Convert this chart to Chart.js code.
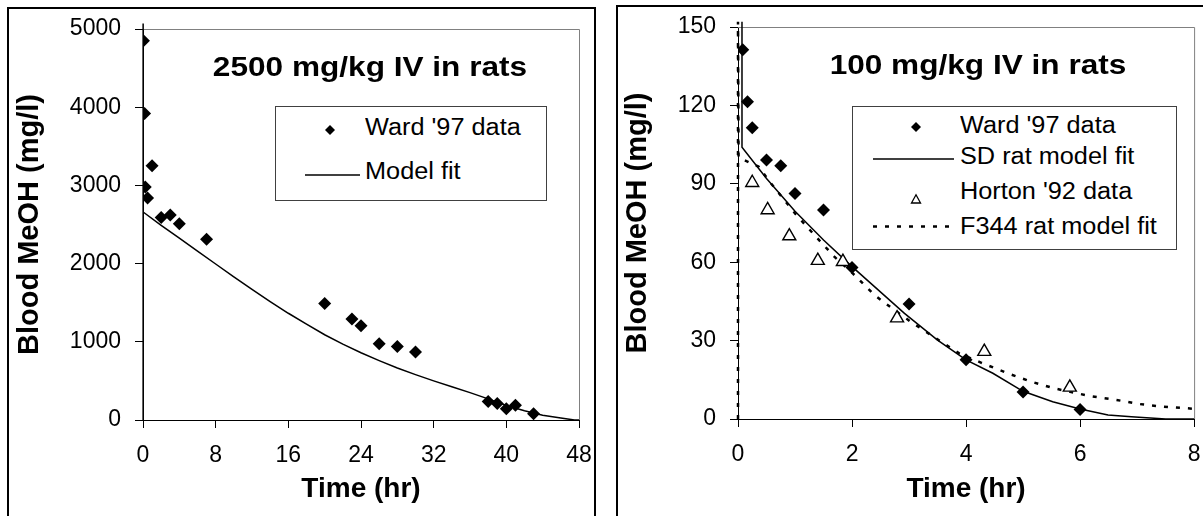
<!DOCTYPE html>
<html>
<head>
<meta charset="utf-8">
<script src="https://cdn.jsdelivr.net/npm/chart.js@4.4.0/dist/chart.umd.min.js"></script>
<style>
    html, body { margin: 0; padding: 0; background: #fff; }
    body { width: 1203px; height: 516px; position: relative; overflow: hidden; font-family: "Liberation Sans", Arial, sans-serif; color: #000; }
    .frame { position: absolute; border: 2px solid #000; box-sizing: border-box; }
    #frameLeft { left: 7px; top: 7px; width: 589px; height: 540px; }
    #frameRight { left: 616px; top: 5px; width: 620px; height: 540px; }
    canvas { position: absolute; top: 0; }
    #leftChart { left: 0; }
    #rightChart { left: 600px; }
    .title { position: absolute; font-weight: bold; font-size: 27px; line-height: 1; white-space: nowrap; transform: translateX(-50%) scaleX(1.17); }
    .legend { position: absolute; border: 1px solid #404040; background: #fff; box-sizing: border-box; }
    .item { position: absolute; font-size: 23px; line-height: 1; white-space: nowrap; transform-origin: left center; transform: scaleX(1.1); }
    svg { position: absolute; overflow: visible; }
</style>
</head>
<body>
<div class="frame" id="frameLeft"></div>
<div class="frame" id="frameRight"></div>
<canvas id="leftChart" width="600" height="516"></canvas>
<canvas id="rightChart" width="603" height="516"></canvas>

<div class="title" style="left:370px; top:54px;">2500 mg/kg IV in rats</div>
<div class="legend" style="left:275px; top:106px; width:272px; height:95px;"></div>
<svg style="left:325px; top:125px;" width="10" height="10"><polygon points="5,0 10,5 5,10 0,5" fill="#000"/></svg>
<div class="item" style="left:365px; top:116px;">Ward '97 data</div>
<svg style="left:305px; top:174px;" width="55" height="2"><line x1="0" y1="1" x2="55" y2="1" stroke="#000" stroke-width="1.5"/></svg>
<div class="item" style="left:365px; top:160px;">Model fit</div>

<div class="title" style="left:978px; top:52px;">100 mg/kg IV in rats</div>
<div class="legend" style="left:852px; top:106px; width:325px; height:144px;"></div>
<svg style="left:911px; top:122px;" width="10" height="10"><polygon points="5,0 10,5 5,10 0,5" fill="#000"/></svg>
<div class="item" style="left:960px; top:114px;">Ward '97 data</div>
<svg style="left:873px; top:158px;" width="81" height="2"><line x1="0" y1="1" x2="81" y2="1" stroke="#000" stroke-width="1.5"/></svg>
<div class="item" style="left:960px; top:145px;">SD rat model fit</div>
<svg style="left:911px; top:194px;" width="10" height="10"><polygon points="5,0.8 9.5,9 0.5,9" fill="#fff" stroke="#000" stroke-width="1.3"/></svg>
<div class="item" style="left:960px; top:180px;">Horton '92 data</div>
<svg style="left:873px; top:225px;" width="78" height="3"><line x1="0" y1="1.5" x2="78" y2="1.5" stroke="#000" stroke-width="2.5" stroke-dasharray="4 8"/></svg>
<div class="item" style="left:960px; top:215px;">F344 rat model fit</div>

<script>
/* global Chart */

// 2500 mg/kg panel
const leftWardTime = [0.05, 0.17, 0.25, 0.5, 1, 2, 3, 4, 7, 20, 23, 24, 26, 28, 30, 38, 39, 40, 41, 43];
const leftWardConc = [4850, 3920, 2980, 2840, 3250, 2590, 2620, 2510, 2310, 1490, 1290, 1205, 975, 940, 870, 235, 210, 145, 188, 80];
const leftFitTime = [0, 0, 0.03, 2, 4, 6, 8, 10, 12, 14, 16, 18, 20, 22, 24, 26, 28, 30, 32, 34, 36, 38, 40, 42, 44, 46, 47.5, 48];
const leftFitConc = [0, 5070, 2660, 2490, 2325, 2160, 1995, 1830, 1670, 1515, 1365, 1225, 1090, 970, 860, 760, 665, 580, 500, 425, 350, 270, 185, 118, 62, 25, 0, 0];
const leftXTicks = [0, 8, 16, 24, 32, 40, 48];
const leftYTicks = [0, 1000, 2000, 3000, 4000, 5000];

// 100 mg/kg panel
const rightWardTime = [0.083, 0.167, 0.25, 0.5, 0.75, 1, 1.5, 2, 3, 4, 5, 6];
const rightWardConc = [141.3, 121.4, 111.4, 99.1, 96.9, 86.3, 80, 58, 44, 22.7, 10.3, 3.6];
const hortonTime = [0.25, 0.52, 0.9, 1.4, 1.84, 2.79, 4.32, 5.82];
const hortonConc = [90.4, 80, 70, 60.6, 60.2, 38.6, 25.8, 12.1];
const sdFitTime = [0.07, 0.07, 0.5, 1, 1.5, 2, 2.33, 2.92, 3.5, 4, 4.47, 5, 5.52, 6, 6.49, 6.9, 7.5, 8];
const sdFitConc = [152, 104, 92, 79.5, 68.5, 58.3, 51.9, 40.4, 30.2, 22.6, 17.5, 10.6, 6.6, 3.8, 1.5, 0.9, 0, 0];
const f344FitTime = [0, 0, 0.01, 0.36, 0.53, 1, 1.34, 1.69, 2, 2.39, 2.6, 3.03, 3.47, 3.88, 4.27, 4.73, 5.14, 5.55, 6.17, 6.64, 7.05, 7.46, 7.87, 8];
const f344FitConc = [0, 152, 100, 96.6, 91.5, 78.7, 70.4, 62.1, 56, 47.5, 44, 37.2, 30.9, 25.1, 21.5, 17.5, 14.3, 11.7, 8.8, 7.3, 5.7, 4.7, 4.1, 3.9];
const rightXTicks = [0, 2, 4, 6, 8];
const rightYTicks = [0, 30, 60, 90, 120, 150];

Chart.defaults.font.family = "'Liberation Sans', Arial, sans-serif";
Chart.defaults.color = '#000';

// grey border on the top and right of the plot area
const plotFrame = {
    id: 'plotFrame',
    beforeDatasetsDraw(chart) {
        const { ctx, chartArea: a } = chart;
        ctx.save();
        ctx.strokeStyle = '#808080';
        ctx.lineWidth = 1;
        ctx.beginPath();
        ctx.moveTo(a.left, a.top + 0.5);
        ctx.lineTo(a.right + 0.5, a.top + 0.5);
        ctx.lineTo(a.right + 0.5, a.bottom);
        ctx.stroke();
        ctx.restore();
    }
};

function toPoints(xs, ys) {
    return xs.map((x, i) => ({ x, y: ys[i] }));
}

function markerSet(xs, ys, style, radius, fill) {
    return {
        data: toPoints(xs, ys),
        showLine: false,
        pointStyle: style,
        pointRadius: radius,
        pointHoverRadius: radius,
        pointBackgroundColor: fill,
        pointBorderColor: '#000',
        pointBorderWidth: style === 'triangle' ? 1.4 : 0,
        order: 0
    };
}

function lineSet(xs, ys, dash, width) {
    return {
        data: toPoints(xs, ys),
        showLine: true,
        borderColor: '#000',
        borderWidth: width,
        borderDash: dash,
        pointRadius: 0,
        tension: 0,
        clip: false,
        order: 1
    };
}

function axis(min, max, ticks, title, titlePad, fitSize, horizontal) {
    return {
        type: 'linear',
        min,
        max,
        afterBuildTicks: scale => { scale.ticks = ticks.map(value => ({ value })); },
        afterFit: scale => {
            if (horizontal) scale.height = fitSize;
            else scale.width = fitSize;
            // keep the plot area fixed, labels may overhang the padding
            scale.paddingLeft = 0;
            scale.paddingRight = 0;
            scale.paddingTop = 0;
            scale.paddingBottom = 0;
        },
        border: { color: '#000', width: 1 },
        grid: { drawOnChartArea: false, color: '#000', tickLength: 8 },
        ticks: {
            font: { size: 23 },
            padding: 14,
            maxRotation: 0,
            autoSkip: false,
            callback: value => String(value)
        },
        title: {
            display: true,
            text: title,
            font: { size: horizontal ? 28 : 29, weight: 'bold' },
            padding: titlePad
        }
    };
}

function makeChart(id, datasets, x, y, padding) {
    return new Chart(document.getElementById(id), {
        type: 'scatter',
        data: { datasets },
        options: {
            responsive: false,
            animation: false,
            events: [],
            layout: { padding },
            plugins: { legend: { display: false }, tooltip: { enabled: false } },
            scales: { x, y }
        },
        plugins: [plotFrame]
    });
}

makeChart('leftChart', [
    markerSet(leftWardTime, leftWardConc, 'rectRot', 6.5, '#000'),
    lineSet(leftFitTime, leftFitConc, [], 1.5)
],
axis(0, 48, leftXTicks, 'Time (hr)', { bottom: 10 }, 96, true),
axis(0, 5000, leftYTicks, 'Blood MeOH (mg/l)', { top: 13 }, 143, false),
{ left: 0, top: 29, right: 21, bottom: 0 });

makeChart('rightChart', [
    markerSet(rightWardTime, rightWardConc, 'rectRot', 6.5, '#000'),
    lineSet(sdFitTime, sdFitConc, [], 1.5),
    markerSet(hortonTime, hortonConc, 'triangle', 7.5, '#fff'),
    lineSet(f344FitTime, f344FitConc, [4, 8], 2.5)
],
axis(0, 8, rightXTicks, 'Time (hr)', { bottom: 10 }, 97, true),
axis(0, 150, rightYTicks, 'Blood MeOH (mg/l)', { top: 21 }, 138, false),
{ left: 0, top: 27, right: 8, bottom: 0 });
</script>
</body>
</html>
